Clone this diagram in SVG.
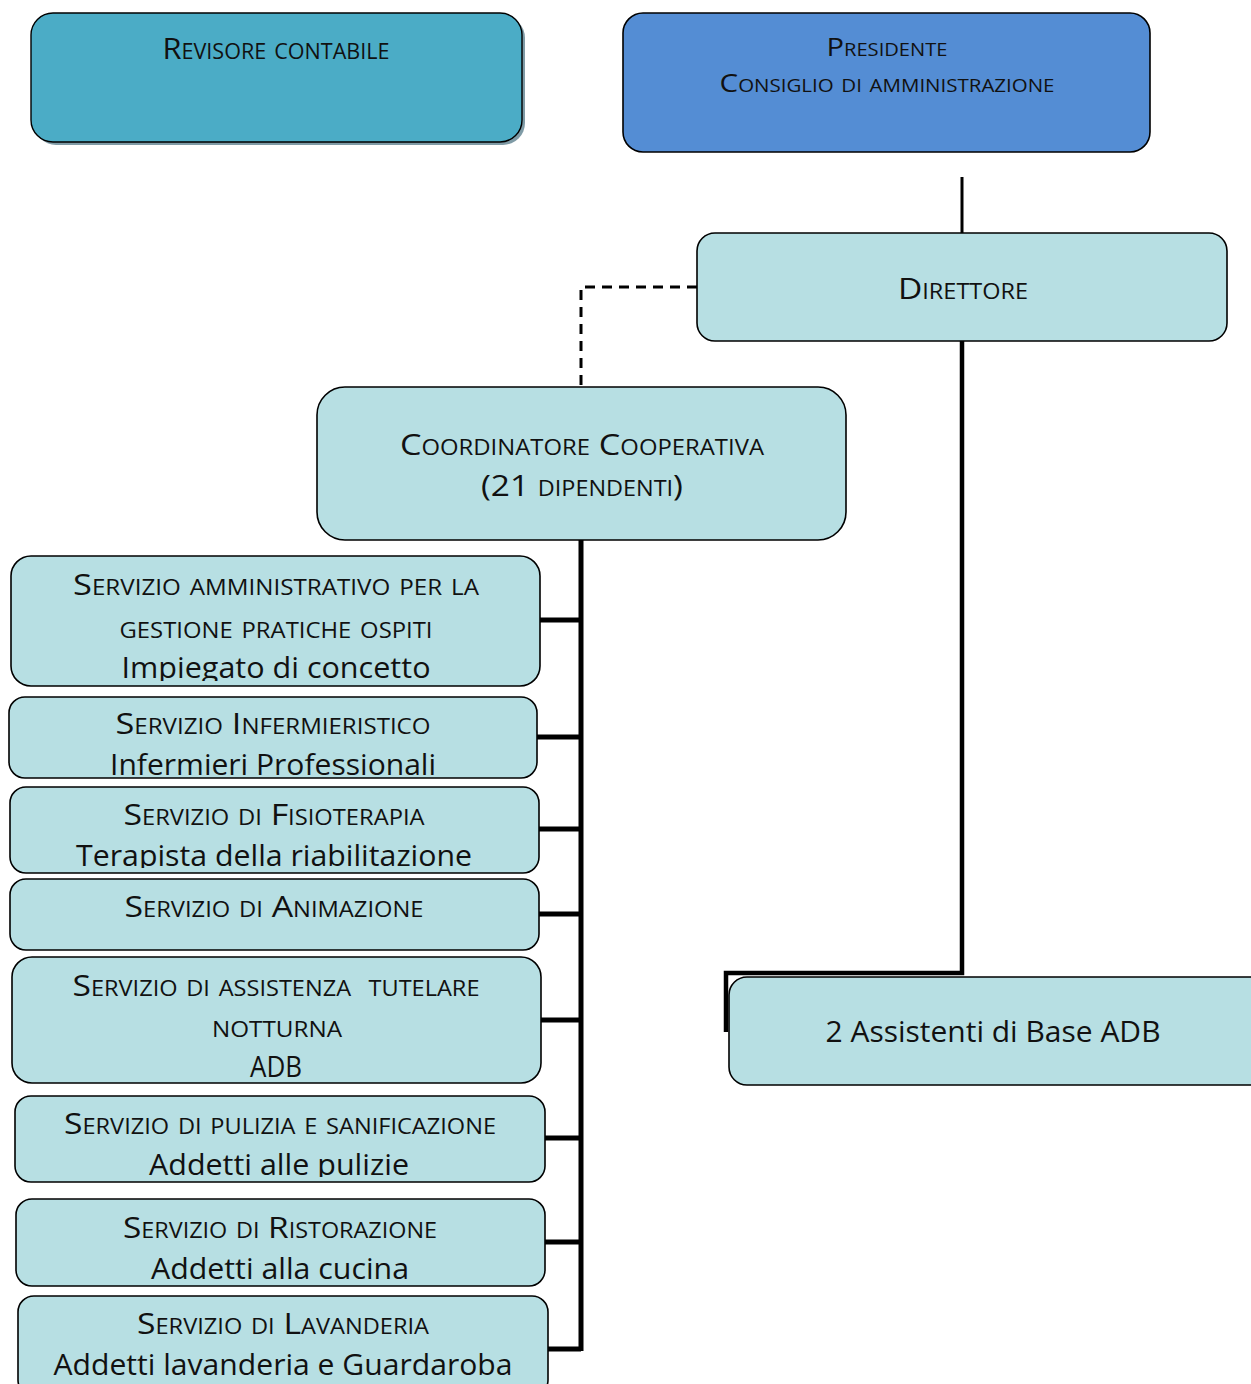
<svg xmlns="http://www.w3.org/2000/svg" width="1251" height="1384" viewBox="0 0 1251 1384">
<style>
text{font-family:"Open Sans","Noto Sans","Liberation Sans",sans-serif;fill:#111;text-anchor:middle}
.sc{font-variant:small-caps;font-size:30px}
.scs{font-variant:small-caps;font-size:26px}
.n{font-size:29px}
.box{fill:#b7dfe3;stroke:#000;stroke-width:1.6}
.thick{stroke:#000;stroke-width:5;fill:none}
</style>
<defs>
<clipPath id="c1"><rect x="11" y="556" width="529" height="125"/></clipPath>
<clipPath id="c2"><rect x="9" y="697" width="528" height="78"/></clipPath>
<clipPath id="c3"><rect x="10" y="787" width="529" height="81"/></clipPath>
<clipPath id="c6"><rect x="15" y="1096" width="530" height="81"/></clipPath>
</defs>
<g id="connectors">
<line x1="962" y1="177" x2="962" y2="233" stroke="#000" stroke-width="3"/>
<path d="M697 287 H581 V387" fill="none" stroke="#000" stroke-width="3" stroke-dasharray="10 7"/>
<path d="M962 341 V973 H726 V1032" fill="none" stroke="#000" stroke-width="4.5"/>
<path class="thick" d="M581 540 V1351"/>
<path class="thick" d="M540 620 H581 M537 737 H581 M539 829 H581 M539 914 H581 M541 1020 H581 M545 1138 H581 M545 1242 H581 M548 1349 H581"/>
</g>
<g id="revisore">
<rect x="34" y="16" width="491" height="129" rx="22" fill="#7f9ba6"/>
<rect x="31" y="13" width="491" height="129" rx="22" fill="#4bacc6" stroke="#000" stroke-width="1.4"/>
<text class="sc" x="276" y="59" textLength="227" lengthAdjust="spacingAndGlyphs">Revisore contabile</text>
</g>
<g id="presidente">
<rect x="623" y="13" width="527" height="139" rx="20" fill="#548dd4" stroke="#000" stroke-width="1.6"/>
<text class="scs" x="887" y="56" textLength="121" lengthAdjust="spacingAndGlyphs">Presidente</text>
<text class="scs" x="887" y="92" textLength="335" lengthAdjust="spacingAndGlyphs">Consiglio di amministrazione</text>
</g>
<g id="direttore">
<rect class="box" x="697" y="233" width="530" height="108" rx="18"/>
<text class="sc" x="963" y="299" textLength="130" lengthAdjust="spacingAndGlyphs">Direttore</text>
</g>
<g id="coordinatore">
<rect class="box" x="317" y="387" width="529" height="153" rx="28"/>
<text class="sc" x="582" y="455" textLength="364" lengthAdjust="spacingAndGlyphs">Coordinatore Cooperativa</text>
<text class="sc" x="582" y="496" textLength="202" lengthAdjust="spacingAndGlyphs">(21 dipendenti)</text>
</g>
<g id="assistenti">
<rect class="box" x="729" y="977" width="540" height="108" rx="18"/>
<text class="n" x="993" y="1042" textLength="335" lengthAdjust="spacingAndGlyphs">2 Assistenti di Base ADB</text>
</g>
<g id="amministrativo">
<rect class="box" x="11" y="556" width="529" height="130" rx="20"/>
<g clip-path="url(#c1)">
<text class="sc" x="276" y="595" textLength="406" lengthAdjust="spacingAndGlyphs">Servizio amministrativo per la</text>
<text class="sc" x="276" y="638" textLength="313" lengthAdjust="spacingAndGlyphs">gestione pratiche ospiti</text>
<text class="n" x="276" y="678" textLength="309" lengthAdjust="spacingAndGlyphs">Impiegato di concetto</text>
</g>
</g>
<g id="infermieristico">
<rect class="box" x="9" y="697" width="528" height="81" rx="16"/>
<g clip-path="url(#c2)">
<text class="sc" x="273" y="734" textLength="315" lengthAdjust="spacingAndGlyphs">Servizio Infermieristico</text>
<text class="n" x="273" y="775" textLength="326" lengthAdjust="spacingAndGlyphs">Infermieri Professionali</text>
</g>
</g>
<g id="fisioterapia">
<rect class="box" x="10" y="787" width="529" height="86" rx="16"/>
<g clip-path="url(#c3)">
<text class="sc" x="274" y="825" textLength="301" lengthAdjust="spacingAndGlyphs">Servizio di Fisioterapia</text>
<text class="n" x="274" y="866" textLength="396" lengthAdjust="spacingAndGlyphs">Terapista della riabilitazione</text>
</g>
</g>
<g id="animazione">
<rect class="box" x="10" y="879" width="529" height="71" rx="16"/>
<text class="sc" x="274" y="917" textLength="299" lengthAdjust="spacingAndGlyphs">Servizio di Animazione</text>
</g>
<g id="assistenza">
<rect class="box" x="12" y="957" width="529" height="126" rx="20"/>
<text class="sc" x="276" y="996" textLength="407" lengthAdjust="spacingAndGlyphs" xml:space="preserve">Servizio di assistenza  tutelare</text>
<text class="sc" x="277" y="1037" textLength="130" lengthAdjust="spacingAndGlyphs">notturna</text>
<text class="sc" x="276" y="1077" textLength="52" lengthAdjust="spacingAndGlyphs">ADB</text>
</g>
<g id="pulizia">
<rect class="box" x="15" y="1096" width="530" height="86" rx="16"/>
<g clip-path="url(#c6)">
<text class="sc" x="280" y="1134" textLength="432" lengthAdjust="spacingAndGlyphs">Servizio di pulizia e sanificazione</text>
<text class="n" x="279" y="1175" textLength="260" lengthAdjust="spacingAndGlyphs">Addetti alle pulizie</text>
</g>
</g>
<g id="ristorazione">
<rect class="box" x="16" y="1199" width="529" height="87" rx="16"/>
<text class="sc" x="280" y="1238" textLength="314" lengthAdjust="spacingAndGlyphs">Servizio di Ristorazione</text>
<text class="n" x="280" y="1279" textLength="258" lengthAdjust="spacingAndGlyphs">Addetti alla cucina</text>
</g>
<g id="lavanderia">
<rect class="box" x="18" y="1296" width="530" height="100" rx="16"/>
<text class="sc" x="283" y="1334" textLength="292" lengthAdjust="spacingAndGlyphs">Servizio di Lavanderia</text>
<text class="n" x="283" y="1375" textLength="459" lengthAdjust="spacingAndGlyphs">Addetti lavanderia e Guardaroba</text>
</g>
</svg>
